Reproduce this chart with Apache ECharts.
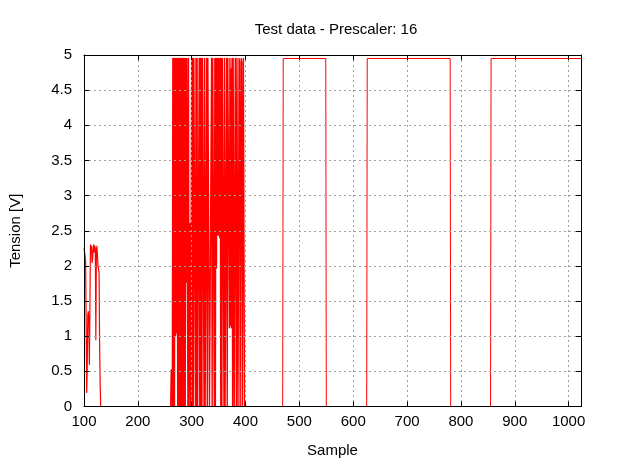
<!DOCTYPE html>
<html>
<head>
<meta charset="utf-8">
<script src="https://cdn.jsdelivr.net/npm/echarts@6/dist/echarts.min.js"></script>
<style>
  html, body { margin: 0; padding: 0; background: #fff; }
  #chart { width: 620px; height: 465px; }
</style>
</head>
<body>
<div id="chart"></div>
<script>
// samples 100..133, the slow analog part at the start
const startFirst = 100;
const startValues = [2.25, 2.2, 2.15, 2.05, 1.2, 0.2, 0.55, 1.3, 1.35, 1.25,
  0.6, 1.4, 2.3, 2.2, 2.28, 2.05, 2.1, 2.25, 2.3, 2.2,
  2.28, 2.25, 0.95, 2.2, 2.28, 2.3, 2.0, 1.95, 1.9, 0.9,
  0.3, 0, 0, 0];

// samples 261..398, the noisy burst
const burstFirst = 261;
const burstValues = [0, 0.52, 0.5, 0, 4.95, 0, 4.95, 0, 4.95, 1.0,
  4.95, 1.05, 4.95, 0, 4.95, 0, 4.95, 0, 4.95, 0,
  4.95, 0, 4.95, 0, 4.95, 0, 4.95, 0, 4.95, 1.77,
  4.95, 1.8, 0, 4.95, 0, 0, 2.6, 0, 0, 4.95,
  0, 4.95, 0, 4.95, 4.95, 4.95, 0, 4.95, 0, 4.95,
  0, 0, 0, 4.95, 0, 4.95, 0, 4.95, 0, 4.95,
  4.95, 4.95, 0, 4.95, 0, 0, 0, 4.95, 0, 4.95,
  4.95, 4.95, 0, 0, 0, 0, 4.95, 0, 4.95, 4.95,
  4.95, 0, 4.95, 0, 4.95, 1.97, 4.95, 2.44, 4.95, 2.44,
  4.95, 2.4, 4.95, 0, 4.95, 0, 4.95, 4.95, 4.95, 0,
  4.95, 0, 0, 0, 4.95, 0, 4.95, 4.95, 4.95, 1.12,
  4.95, 1.15, 4.8, 1.12, 4.95, 0, 4.95, 4.95, 0, 0,
  4.95, 4.95, 0, 4.95, 4.95, 0, 0, 4.95, 4.9, 0,
  0, 4.95, 4.9, 0, 0, 4.95, 4.95, 0];

// clean square pulses afterwards
const highLevel = 4.95;
const pulseRise = [470, 626, 856];
const pulseFall = [549, 780, 1023];

const xMin = 100, xMax = 1023;
const yTicks = [0, 5, 0.5];

const startPts = startValues.map((v, i) => [startFirst + i, v]);
const burstPts = burstValues.map((v, i) => [burstFirst + i, v]);
const pulsePts = [];
pulseRise.forEach((r, i) => {
  pulsePts.push([r - 1, 0], [r, highLevel], [pulseFall[i], highLevel]);
  if (pulseFall[i] < xMax) pulsePts.push([pulseFall[i] + 1, 0]);
});

const font = 'Liberation Sans, Arial, sans-serif';
const black = '#000';
const red = '#ff0000';
const gridLine = { show: true, lineStyle: { color: '#a0a0a0', type: [2, 3], width: 1 } };
const tick = { show: true, inside: true, length: 5, lineStyle: { color: black } };
const line = { show: true, onZero: false, lineStyle: { color: black, width: 1 } };

function trace(data, width) {
  return {
    type: 'line', data: data, showSymbol: false, symbol: 'none', clip: true,
    lineStyle: { color: red, width: width, join: 'round' }, itemStyle: { color: red }
  };
}

const chart = echarts.init(document.getElementById('chart'));
chart.setOption({
  animation: false,
  backgroundColor: '#fff',
  title: {
    text: 'Test data - Prescaler: 16',
    left: 331, top: 17, textAlign: 'center',
    textStyle: { fontFamily: font, fontSize: 15, fontWeight: 'normal', color: black }
  },
  // bottom at a half pixel so the zero level sits under the axis line
  grid: { left: 82, right: 39, top: 55, bottom: 58.5 },
  xAxis: [{
    type: 'value', min: xMin, max: xMax, interval: 100, position: 'bottom', z: 5,
    axisLine: line, axisTick: tick, splitLine: gridLine,
    axisLabel: {
      margin: 8, fontFamily: font, fontSize: 15, color: black,
      formatter: v => (v % 100 === 0 ? String(v) : '')
    },
    name: 'Sample', nameLocation: 'middle', nameGap: 37,
    nameTextStyle: { fontFamily: font, fontSize: 15, color: black }
  }, {
    type: 'value', min: xMin, max: xMax, interval: 100, position: 'top', z: 5,
    axisLine: line, axisTick: tick, splitLine: { show: false }, axisLabel: { show: false }
  }],
  yAxis: [{
    type: 'value', min: yTicks[0], max: yTicks[1], interval: yTicks[2], position: 'left', z: 5,
    axisLine: line, axisTick: tick, splitLine: gridLine,
    axisLabel: { margin: 12, fontFamily: font, fontSize: 15, color: black },
    name: 'Tension [V]', nameLocation: 'middle', nameGap: 61, nameRotate: 90,
    nameTextStyle: { fontFamily: font, fontSize: 15, color: black }
  }, {
    type: 'value', min: yTicks[0], max: yTicks[1], interval: yTicks[2], position: 'right', z: 5,
    axisLine: line, axisTick: tick, splitLine: { show: false }, axisLabel: { show: false }
  }],
  series: [trace(startPts, 1.2), trace(burstPts, 1.4), trace(pulsePts, 1)]
});
</script>
</body>
</html>
